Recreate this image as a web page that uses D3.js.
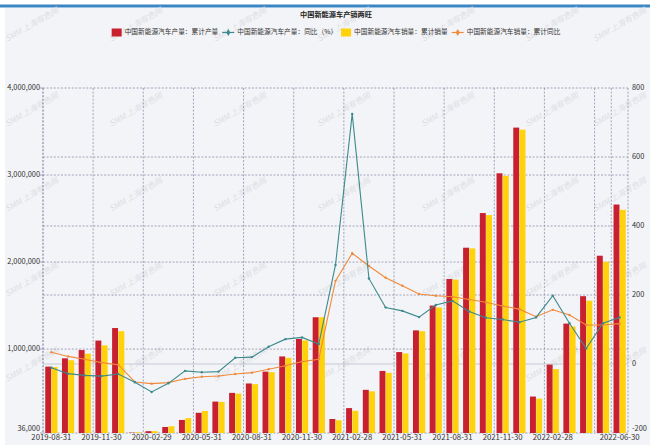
<!DOCTYPE html>
<html><head><meta charset="utf-8">
<script src="https://cdn.jsdelivr.net/npm/d3@7"></script>
<style>
body{margin:0;background:#fff}
svg{display:block}
text{font-family:"Noto Sans CJK SC","Noto Sans",sans-serif}
</style>
</head><body>
<svg id="c" width="650" height="445"></svg>
<script>
const categories = ["2019-08-31","2019-09-30","2019-10-31","2019-11-30","2019-12-31",
  "2020-01-31","2020-02-29","2020-03-31","2020-04-30","2020-05-31","2020-06-30","2020-07-31","2020-08-31","2020-09-30","2020-10-31","2020-11-30","2020-12-31",
  "2021-01-31","2021-02-28","2021-03-31","2021-04-30","2021-05-31","2021-06-30","2021-07-31","2021-08-31","2021-09-30","2021-10-31","2021-11-30","2021-12-31",
  "2022-01-31","2022-02-28","2022-03-31","2022-04-30","2022-05-31","2022-06-30"];
const production = [799000, 894000, 989000, 1098000, 1242000,
  40000, 57000, 105000, 186000, 268000, 397000, 497000, 605000, 741000, 916000, 1116000, 1366000,
  197000, 322000, 532000, 749000, 966000, 1215000, 1500000, 1805000, 2165000, 2563000, 3020000, 3545000,
  455000, 822000, 1293000, 1608000, 2073000, 2661000];
const sales = [793000, 872000, 947000, 1043000, 1206000,
  44000, 57000, 114000, 207000, 289000, 393000, 488000, 597000, 735000, 900000, 1100000, 1367000,
  182000, 291000, 515000, 728000, 950000, 1206000, 1478000, 1799000, 2157000, 2540000, 2990000, 3521000,
  431000, 770000, 1260000, 1556000, 2003000, 2600000];
const productionYoY = [-11, -28, -33, -35, -29, -53, -81, -56, -20, -24, -22, 18, 20, 50, 72, 77, 58,
  287, 725, 248, 164, 154, 136, 171, 183, 152, 134, 129, 121, 135, 198, 118, 45, 118, 135];
const salesYoY = [34, 22, 14, 4, -2, -52, -57, -54, -43, -37, -35, -29, -25, -15, -5, 7, 14,
  241, 321, 284, 250, 227, 203, 198, 195, 187, 179, 168, 159, 137, 157, 142, 113, 113, 117];
const leftTicks = [36000, 1000000, 2000000, 3000000, 4000000];
const rightTicks = [-200, 0, 200, 400, 600, 800];
const hiddenXLabels = ["2022-05-31"];
const title = "中国新能源车产销两旺";
const seriesNames = ["中国新能源汽车产量：累计产量", "中国新能源汽车产量：同比（%）", "中国新能源汽车销量：累计销量", "中国新能源汽车销量：累计同比"];
const watermark = "SMM 上海有色网";

const C = {red:"#c8202e", yellow:"#ffd20c", teal:"#3c8a8d", orange:"#f08a3b", grid:"#8e91ad", text:"#333"};
const svg = d3.select("#c");
const L = 43, R = 628, T = 88, B = 433;

// background
svg.append("rect").attr("width",650).attr("height",445).attr("fill","#fff");
svg.append("rect").attr("x",5).attr("y",8).attr("width",645).attr("height",437).attr("fill","#f3f4f7");
svg.append("rect").attr("x",0).attr("y",4.5).attr("width",650).attr("height",3).attr("fill","#3b87c5");

// watermarks
const wm = svg.append("g");
for (let i = 0; i < 7; i++) for (let j = 0; j < 5; j++) {
  const cx = Math.min(32 + 104*i, 620), cy = 25 + 85*j;
  wm.append("text").attr("transform",`translate(${cx},${cy}) rotate(-30)`)
    .attr("text-anchor","middle").attr("dominant-baseline","middle")
    .attr("font-size",8).attr("font-style","italic").attr("fill","#dcdee4").text(watermark);
}

const x = d3.scaleBand().domain(categories).range([L, R]).padding(0);
const xs = d3.scaleBand().domain(["p","s"]).range([0, x.bandwidth()]).paddingInner(0.05).paddingOuter(0.36);
const yL = d3.scaleLinear().domain([36000, 4000000]).range([B, T]);
const yR = d3.scaleLinear().domain([-200, 800]).range([B, T]);

const xTicks = categories.filter((d,i)=> i%3===0 || i===categories.length-1);

// gridlines
const g = svg.append("g");
const hLines = [...new Set([...leftTicks.filter(v=>v!==36000).map(v=>yL(v)), ...rightTicks.filter(v=>v!==0 && v!==-200).map(v=>yR(v))])];
hLines.forEach(y=>{
  g.append("line").attr("x1",L).attr("x2",R).attr("y1",y).attr("y2",y)
   .attr("stroke",C.grid).attr("stroke-width",0.8).attr("stroke-dasharray","2,1.6");
});
g.append("line").attr("x1",L).attr("x2",R).attr("y1",yR(0)).attr("y2",yR(0))
  .attr("stroke","#c6c9d3").attr("stroke-width",1);
xTicks.forEach(c=>{
  g.append("line").attr("x1",x(c)).attr("x2",x(c)).attr("y1",T).attr("y2",B)
   .attr("stroke",C.grid).attr("stroke-width",0.8).attr("stroke-dasharray","2,1.6");
});
g.append("line").attr("x1",R).attr("x2",R).attr("y1",T).attr("y2",B).attr("stroke",C.grid).attr("stroke-width",0.8).attr("stroke-dasharray","2,1.6");
g.append("line").attr("x1",L).attr("x2",R).attr("y1",B).attr("y2",B).attr("stroke",C.grid).attr("stroke-width",0.8).attr("stroke-dasharray","2,1.6");

// bars
const bars = svg.append("g");
bars.selectAll(".p").data(categories).join("rect")
  .attr("x",d=>x(d)+xs("p")).attr("width",xs.bandwidth())
  .attr("y",(d,i)=>yL(production[i])).attr("height",(d,i)=>B-yL(production[i]))
  .attr("fill",C.red);
bars.selectAll(".s").data(categories).join("rect")
  .attr("x",d=>x(d)+xs("s")).attr("width",xs.bandwidth())
  .attr("y",(d,i)=>yL(sales[i])).attr("height",(d,i)=>B-yL(sales[i]))
  .attr("fill",C.yellow);

// lines
const cx = d=>x(d)+x.bandwidth()/2;
function drawLine(vals, color){
  const line = d3.line().x((d,i)=>cx(categories[i])).y(d=>yR(d));
  svg.append("path").datum(vals).attr("d",line).attr("fill","none").attr("stroke",color).attr("stroke-width",1.1);
  svg.append("g").selectAll("circle").data(vals).join("circle")
    .attr("cx",(d,i)=>cx(categories[i])).attr("cy",d=>yR(d)).attr("r",1.2).attr("fill",color);
}
drawLine(salesYoY, C.orange);
drawLine(productionYoY, C.teal);

// axes labels
const ax = svg.append("g").attr("fill",C.text);
leftTicks.forEach(v=>{
  ax.append("text").attr("x",40).attr("y",v===36000 ? 428.5 : yL(v)).attr("text-anchor","end").attr("dominant-baseline","middle")
    .attr("font-size",7.4).text(d3.format(",")(v));
  ax.append("line").attr("x1",L-3).attr("x2",L).attr("y1",yL(v)).attr("y2",yL(v)).attr("stroke",C.grid).attr("stroke-width",0.8);
});
rightTicks.forEach(v=>{
  ax.append("text").attr("x",632).attr("y",v===-200 ? 428.5 : yR(v)).attr("text-anchor","start").attr("dominant-baseline","middle")
    .attr("font-size",7.4).text(v);
});
xTicks.filter(c=>!hiddenXLabels.includes(c)).forEach(c=>{
  ax.append("text").attr("x",cx(c)).attr("y",439.5).attr("text-anchor","middle")
    .attr("font-size",7.8).text(c);
});
g.append("line").attr("x1",L).attr("x2",L).attr("y1",T).attr("y2",B).attr("stroke",C.grid).attr("stroke-width",0.8).attr("stroke-dasharray","2,1.6");

// title
svg.append("text").attr("x",336).attr("y",15).attr("text-anchor","middle").attr("dominant-baseline","middle")
  .attr("font-size",7.2).attr("font-weight","bold").attr("fill","#222").text(title);

// legend
const lg = svg.append("g");
const items = [
  {name:seriesNames[0], type:"rect", color:C.red},
  {name:seriesNames[1], type:"line", color:C.teal},
  {name:seriesNames[2], type:"rect", color:C.yellow},
  {name:seriesNames[3], type:"line", color:C.orange}];
const ly = 32.5;
const nodes = items.map(it=>{
  const gi = lg.append("g");
  if (it.type==="rect") {
    gi.append("rect").attr("x",0).attr("y",ly-4).attr("width",10).attr("height",8).attr("fill",it.color);
  } else {
    gi.append("line").attr("x1",0).attr("x2",12).attr("y1",ly).attr("y2",ly).attr("stroke",it.color).attr("stroke-width",1.2);
    gi.append("path").attr("d",d3.symbol(d3.symbolDiamond,14)()).attr("transform",`translate(6,${ly})`).attr("fill",it.color);
  }
  const sw = it.type==="rect" ? 13 : 15;
  const t = gi.append("text").attr("x",sw).attr("y",ly).attr("dominant-baseline","middle")
    .attr("font-size",6.7).attr("fill","#333").text(it.name);
  const w = sw + t.node().getComputedTextLength();
  return {gi, w};
});
const gap = 4;
const total = nodes.reduce((s,n)=>s+n.w,0) + gap*(nodes.length-1);
let sx = 336 - total/2;
nodes.forEach(n=>{ n.gi.attr("transform",`translate(${sx},0)`); sx += n.w + gap; });
</script>
</body></html>
